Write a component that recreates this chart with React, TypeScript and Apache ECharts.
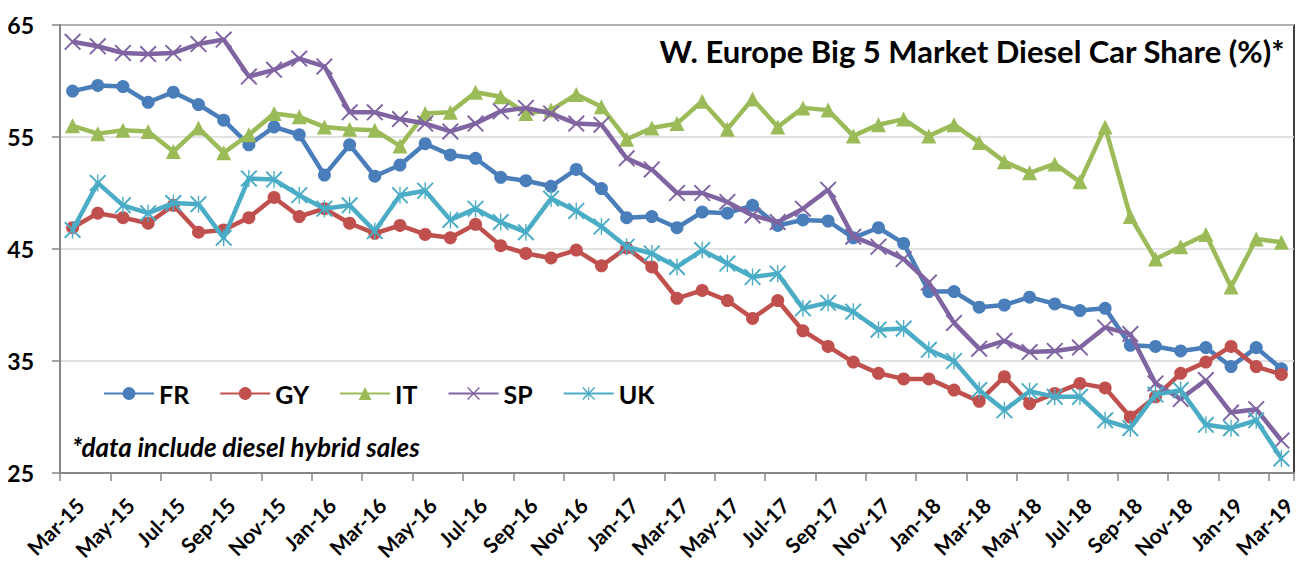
import React, { useEffect, useRef } from "react";
import * as echarts from "echarts";

const categories = [
  "Mar-15", "Apr-15", "May-15", "Jun-15", "Jul-15", "Aug-15", "Sep-15", "Oct-15", "Nov-15", "Dec-15",
  "Jan-16", "Feb-16", "Mar-16", "Apr-16", "May-16", "Jun-16", "Jul-16", "Aug-16", "Sep-16", "Oct-16", "Nov-16", "Dec-16",
  "Jan-17", "Feb-17", "Mar-17", "Apr-17", "May-17", "Jun-17", "Jul-17", "Aug-17", "Sep-17", "Oct-17", "Nov-17", "Dec-17",
  "Jan-18", "Feb-18", "Mar-18", "Apr-18", "May-18", "Jun-18", "Jul-18", "Aug-18", "Sep-18", "Oct-18", "Nov-18", "Dec-18",
  "Jan-19", "Feb-19", "Mar-19",
];

const FR = [
  59.1, 59.6, 59.5, 58.1, 59.0, 57.9, 56.5, 54.3, 55.9, 55.2,
  51.6, 54.3, 51.5, 52.5, 54.4, 53.4, 53.1, 51.4, 51.1, 50.6, 52.1, 50.4,
  47.8, 47.9, 46.9, 48.3, 48.2, 48.9, 47.1, 47.6, 47.5, 46.0, 46.9, 45.5,
  41.2, 41.2, 39.8, 40.0, 40.7, 40.1, 39.5, 39.7, 36.4, 36.3, 35.9, 36.2,
  34.5, 36.2, 34.3,
];
const GY = [
  46.9, 48.2, 47.8, 47.3, 48.9, 46.5, 46.7, 47.8, 49.6, 47.9,
  48.6, 47.3, 46.4, 47.1, 46.3, 46.0, 47.2, 45.3, 44.6, 44.2, 44.9, 43.5,
  45.1, 43.4, 40.6, 41.3, 40.4, 38.8, 40.4, 37.7, 36.3, 34.9, 33.9, 33.4,
  33.4, 32.4, 31.4, 33.6, 31.2, 32.1, 33.0, 32.6, 30.0, 31.8, 33.9, 34.9,
  36.3, 34.5, 33.8,
];
const IT = [
  56.0, 55.3, 55.6, 55.5, 53.7, 55.8, 53.6, 55.2, 57.1, 56.8,
  55.9, 55.7, 55.6, 54.2, 57.1, 57.2, 59.0, 58.6, 57.1, 57.4, 58.8, 57.7,
  54.8, 55.8, 56.2, 58.2, 55.7, 58.4, 55.9, 57.6, 57.4, 55.1, 56.1, 56.6,
  55.1, 56.1, 54.5, 52.8, 51.8, 52.6, 51.0, 55.9, 47.9, 44.1, 45.2, 46.3,
  41.6, 45.9, 45.6,
];
const SP = [
  63.5, 63.1, 62.5, 62.4, 62.5, 63.3, 63.7, 60.4, 61.0, 62.0,
  61.3, 57.2, 57.2, 56.6, 56.2, 55.5, 56.2, 57.3, 57.6, 57.1, 56.2, 56.1,
  53.1, 52.1, 50.0, 50.0, 49.2, 48.0, 47.4, 48.6, 50.3, 46.1, 45.2, 44.1,
  42.0, 38.4, 36.1, 36.8, 35.8, 35.9, 36.2, 38.0, 37.4, 33.0, 31.6, 33.3,
  30.4, 30.7, 27.9,
];
const UK = [
  46.7, 50.9, 48.9, 48.2, 49.1, 49.0, 46.0, 51.3, 51.2, 49.8,
  48.6, 48.9, 46.6, 49.8, 50.2, 47.6, 48.6, 47.4, 46.5, 49.5, 48.4, 47.0,
  45.2, 44.6, 43.4, 44.9, 43.7, 42.5, 42.8, 39.7, 40.2, 39.4, 37.8, 37.9,
  36.0, 35.0, 32.4, 30.6, 32.3, 31.8, 31.8, 29.7, 29.0, 32.0, 32.4, 29.3,
  29.0, 29.7, 26.3,
];

const seriesNames = ["FR", "GY", "IT", "SP", "UK"];
const seriesData = [FR, GY, IT, SP, UK];
const colors = ["#4A7EBB", "#C0504D", "#9BBB59", "#8064A2", "#4BACC6"];

const X_D = "M0 1.6 L1.6 0 L20 18.4 L18.4 20 Z M18.4 0 L20 1.6 L1.6 20 L0 18.4 Z";
const STAR_D = X_D + " M9.2 0 L10.8 0 L10.8 20 L9.2 20 Z";
const symbols = ["circle", "circle", "triangle", "path://" + X_D, "path://" + STAR_D];
const symbolSizes = [13, 13, 15, 17, 17];

const FONT = "Lato, 'Liberation Sans', sans-serif";

export default function App() {
  const ref = useRef<HTMLDivElement>(null);
  useEffect(() => {
    document.body.style.margin = "0";
    const chart = echarts.init(ref.current!, null, { renderer: "svg" });
    chart.setOption({
      animation: false,
      backgroundColor: "#ffffff",
      textStyle: { fontFamily: FONT },
      title: {
        text: "W. Europe Big 5 Market Diesel Car Share (%)*",
        right: 16,
        top: 30,
        textStyle: { fontFamily: FONT, fontSize: 31, fontWeight: "bold", color: "#000" },
      },
      legend: {
        left: 98,
        top: 376,
        itemWidth: 50,
        itemHeight: 16,
        itemGap: 30,
        data: seriesNames,
        textStyle: { fontFamily: FONT, fontSize: 25, fontWeight: "bold", color: "#000" },
      },
      graphic: [
        {
          type: "text",
          left: 72,
          top: 434,
          style: {
            text: "*data include diesel hybrid sales",
            font: "italic bold 26px " + FONT,
            fill: "#000",
          },
        },
      ],
      grid: {
        left: 60,
        right: 12,
        top: 25,
        bottom: 95,
        containLabel: false,
        outerBoundsMode: "none",
        show: true,
        borderColor: "#000",
        borderWidth: 1.5,
      },
      xAxis: {
        type: "category",
        data: categories,
        boundaryGap: true,
        axisLine: { lineStyle: { color: "#868686", width: 2 } },
        axisTick: { show: true, interval: 1, length: 8, lineStyle: { color: "#868686", width: 1.5 } },
        axisLabel: {
          interval: 1,
          rotate: 45,
          margin: 21,
          align: "right",
          verticalAlign: "top",
          fontFamily: FONT,
          fontSize: 21,
          fontWeight: "bold",
          color: "#000",
        },
      },
      yAxis: {
        type: "value",
        min: 25,
        max: 65,
        interval: 10,
        axisLine: { show: true, lineStyle: { color: "#868686", width: 2 } },
        axisTick: { show: true, length: 8, lineStyle: { color: "#868686", width: 1.5 } },
        splitLine: { lineStyle: { color: "#d9d9d9", width: 1.5 } },
        axisLabel: {
          margin: 26,
          fontFamily: FONT,
          fontSize: 23,
          fontWeight: "bold",
          color: "#000",
        },
      },
      series: seriesNames.map((name, i) => ({
        name,
        type: "line",
        data: seriesData[i],
        symbol: symbols[i],
        symbolSize: symbolSizes[i],
        showAllSymbol: true,
        lineStyle: { color: colors[i], width: 4.5 },
        itemStyle: { color: colors[i], borderWidth: 0 },
        z: 2 + i,
      })),
    });
    return () => chart.dispose();
  }, []);
  return <div ref={ref} style={{ width: 1306, height: 568, position: "absolute", left: 0, top: 0 }} />;
}
